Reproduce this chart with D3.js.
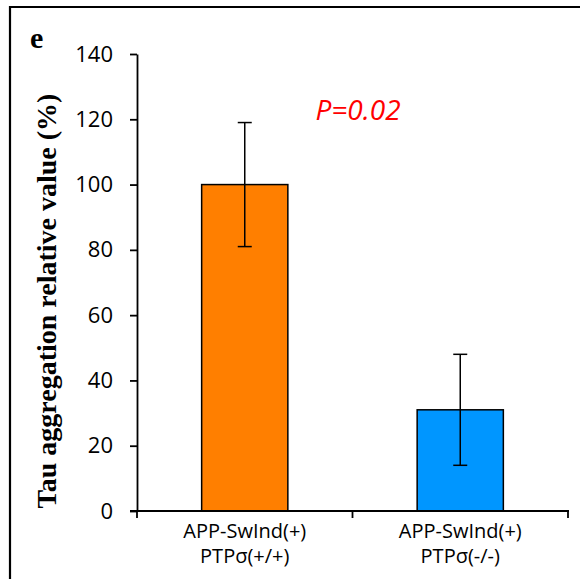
<!DOCTYPE html>
<html>
<head>
<meta charset="utf-8">
<script src="https://cdn.jsdelivr.net/npm/d3@7"></script>
<style>
  body { margin: 0; background: #fff; }
  svg { display: block; }
</style>
</head>
<body>
<div id="chart"></div>
<script>
const groups = ['APP-SwInd(+)|PTPσ(+/+)', 'APP-SwInd(+)|PTPσ(-/-)'];
const values = [100, 31];
const errors = [19, 17];
const colors = ['#ff7f00', '#0096ff'];
const yTicks = [0, 20, 40, 60, 80, 100, 120, 140];

const width = 580;
const height = 579;
const margin = { top: 54, right: 12, bottom: 68, left: 137 };

const svg = d3.select('#chart')
  .append('svg')
  .attr('width', width)
  .attr('height', height);

// panel frame (top and left only, the rest is cropped)
svg.append('path')
  .attr('d', `M10,${height} L10,7 L${width},7`)
  .attr('fill', 'none')
  .attr('stroke', '#000')
  .attr('stroke-width', 2.2);

const x = d3.scaleBand()
  .domain(groups)
  .range([margin.left, width - margin.right])
  .paddingInner(0.6)
  .paddingOuter(0.3);

const y = d3.scaleLinear()
  .domain([0, 140])
  .range([height - margin.bottom, margin.top]);

// bars
svg.append('g')
  .selectAll('rect')
  .data(groups)
  .join('rect')
  .attr('x', (d) => x(d))
  .attr('y', (d, i) => y(values[i]))
  .attr('width', x.bandwidth())
  .attr('height', (d, i) => y(0) - y(values[i]))
  .attr('fill', (d, i) => colors[i])
  .attr('stroke', '#000')
  .attr('stroke-width', 1.5);

// error bars
const err = svg.append('g').attr('stroke', '#000').attr('stroke-width', 1.5);
groups.forEach((g, i) => {
  const cx = x(g) + x.bandwidth() / 2;
  const top = y(values[i] + errors[i]);
  const bot = y(values[i] - errors[i]);
  err.append('line').attr('x1', cx).attr('x2', cx).attr('y1', top).attr('y2', bot);
  err.append('line').attr('x1', cx - 7).attr('x2', cx + 7).attr('y1', top).attr('y2', top);
  err.append('line').attr('x1', cx - 7).attr('x2', cx + 7).attr('y1', bot).attr('y2', bot);
});

// y axis
const yAxis = svg.append('g')
  .attr('transform', `translate(${margin.left},0)`)
  .call(d3.axisLeft(y).tickValues(yTicks).tickSize(7).tickSizeOuter(0).tickPadding(17));
yAxis.select('.domain').attr('stroke-width', 1.8);
yAxis.selectAll('.tick line').attr('stroke-width', 1.8);
yAxis.selectAll('.tick text')
  .attr('font-family', '"Open Sans", sans-serif')
  .attr('font-size', 22)
  .attr('fill', '#000');

// x axis: ticks on the group boundaries
const x0 = margin.left, x1 = width - margin.right;
const xAxis = svg.append('g').attr('stroke', '#000').attr('stroke-width', 1.8);
xAxis.append('line')
  .attr('x1', x0 - 7).attr('x2', x1 + 1)
  .attr('y1', y(0)).attr('y2', y(0));
[x0, (x0 + x1) / 2, x1].forEach((tx) => {
  xAxis.append('line')
    .attr('x1', tx).attr('x2', tx)
    .attr('y1', y(0)).attr('y2', y(0) + 7);
});

// category labels, two lines each
const labelLines = [0, 1];
labelLines.forEach((li) => {
  svg.append('g')
    .selectAll('text')
    .data(groups)
    .join('text')
    .attr('x', (d) => x(d) + x.bandwidth() / 2)
    .attr('y', 538 + li * 25)
    .attr('text-anchor', 'middle')
    .attr('font-family', '"Open Sans", sans-serif')
    .attr('font-size', 20)
    .attr('fill', '#000')
    .text((d) => d.split('|')[li]);
});

// y axis title
svg.append('text')
  .attr('transform', `translate(56,301) rotate(-90)`)
  .attr('text-anchor', 'middle')
  .attr('font-family', '"Liberation Serif", "Times New Roman", serif')
  .attr('font-weight', 'bold')
  .attr('font-size', 28)
  .text('Tau aggregation relative value (%)');

// panel letter
svg.append('text')
  .attr('x', 30)
  .attr('y', 48)
  .attr('font-family', '"Liberation Serif", "Times New Roman", serif')
  .attr('font-weight', 'bold')
  .attr('font-size', 30)
  .text('e');

// p value
svg.append('text')
  .attr('x', 358)
  .attr('y', 120)
  .attr('text-anchor', 'middle')
  .attr('font-family', '"Open Sans", sans-serif')
  .attr('font-style', 'italic')
  .attr('font-size', 28)
  .attr('fill', '#ff0000')
  .text('P=0.02');
</script>
</body>
</html>
